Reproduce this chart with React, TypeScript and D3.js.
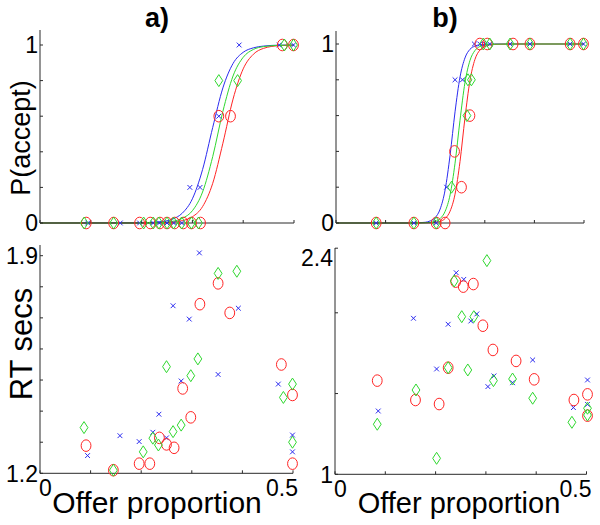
import React from 'react';
import * as d3 from 'd3';

// ---------- Panel a: P(accept) ----------
const aBlueX = [0.094, 0.158, 0.196, 0.223, 0.235, 0.25, 0.263, 0.279, 0.295, 0.315, 0.352, 0.392, 0.471, 0.499];
const aBlueP = [0, 0, 0, 0, 0, 0, 0, 0, 0.2, 0.2, 0.6, 1, 1, 1];
const aRedX = [0.091, 0.145, 0.196, 0.217, 0.236, 0.25, 0.265, 0.282, 0.298, 0.316, 0.352, 0.375, 0.477, 0.499];
const aRedP = [0, 0, 0, 0, 0, 0, 0, 0, 0, 0, 0.6, 0.6, 1, 1];
const aGreenX = [0.087, 0.145, 0.204, 0.223, 0.234, 0.25, 0.263, 0.279, 0.298, 0.312, 0.352, 0.389, 0.481, 0.499];
const aGreenP = [0, 0, 0, 0, 0, 0, 0, 0, 0, 0, 0.8, 0.8, 1, 1];

// fitted curves
const aCurveX = [0, 0.2, 0.24, 0.26, 0.28, 0.3, 0.32, 0.34, 0.36, 0.38, 0.4, 0.42, 0.44, 0.47, 0.5];
const aBlueFit = [0, 0.001, 0.008, 0.021, 0.055, 0.136, 0.3, 0.537, 0.759, 0.896, 0.959, 0.984, 0.994, 0.999, 1];
const aRedFit = [0, 0, 0.002, 0.005, 0.013, 0.035, 0.092, 0.223, 0.448, 0.696, 0.866, 0.948, 0.981, 0.996, 0.999];
const aGreenFit = [0, 0, 0.003, 0.009, 0.026, 0.069, 0.174, 0.373, 0.627, 0.826, 0.931, 0.975, 0.991, 0.998, 1];

// ---------- Panel a: RT ----------
const aBlueRtX = [0.315, 0.263, 0.295, 0.392, 0.352, 0.279, 0.471, 0.235, 0.223, 0.158, 0.196, 0.25, 0.094, 0.499, 0.499];
const aBlueRt = [1.909, 1.739, 1.696, 1.731, 1.518, 1.497, 1.487, 1.39, 1.332, 1.321, 1.302, 1.314, 1.257, 1.323, 1.269];
const aRedRtX = [0.352, 0.316, 0.375, 0.477, 0.499, 0.282, 0.298, 0.236, 0.25, 0.265, 0.091, 0.196, 0.217, 0.145, 0.499];
const aRedRt = [1.811, 1.744, 1.716, 1.55, 1.452, 1.473, 1.38, 1.314, 1.293, 1.282, 1.289, 1.231, 1.231, 1.21, 1.231];
const aGreenRtX = [0.352, 0.389, 0.312, 0.25, 0.298, 0.499, 0.481, 0.279, 0.263, 0.223, 0.234, 0.204, 0.087, 0.499, 0.145];
const aGreenRt = [1.843, 1.85, 1.568, 1.543, 1.514, 1.487, 1.444, 1.355, 1.334, 1.313, 1.291, 1.269, 1.347, 1.3, 1.21];

// ---------- Panel b: P(accept) ----------
const bBlueX = [0.081, 0.157, 0.202, 0.223, 0.24, 0.255, 0.279, 0.29, 0.3, 0.31, 0.351, 0.391, 0.472, 0.499];
const bBlueP = [0, 0, 0, 0.2, 0.8, 0.8, 1, 1, 1, 1, 1, 1, 1, 1];
const bRedX = [0.081, 0.157, 0.202, 0.22, 0.239, 0.253, 0.27, 0.29, 0.305, 0.357, 0.391, 0.472, 0.499];
const bRedP = [0, 0, 0, 0, 0.4, 0.2, 0.6, 1, 1, 1, 1, 1, 1];
const bGreenX = [0.081, 0.157, 0.202, 0.233, 0.264, 0.266, 0.273, 0.297, 0.31, 0.351, 0.391, 0.472, 0.499];
const bGreenP = [0, 0, 0, 0.2, 0.6, 0.8, 0.8, 1, 1, 1, 1, 1, 1];

const bCurveX = [0, 0.15, 0.18, 0.19, 0.2, 0.21, 0.22, 0.23, 0.24, 0.25, 0.26, 0.27, 0.28, 0.29, 0.3, 0.32, 0.35, 0.5];
const bBlueFit = [0, 0, 0.004, 0.012, 0.03, 0.078, 0.185, 0.379, 0.621, 0.815, 0.922, 0.97, 0.988, 0.996, 0.998, 1, 1, 1];
const bRedFit = [0, 0, 0.001, 0.001, 0.004, 0.009, 0.025, 0.066, 0.161, 0.343, 0.587, 0.794, 0.913, 0.966, 0.987, 0.998, 1, 1];
const bGreenFit = [0, 0, 0.001, 0.004, 0.009, 0.025, 0.065, 0.157, 0.334, 0.574, 0.784, 0.907, 0.963, 0.986, 0.995, 0.999, 1, 1];

// ---------- Panel b: RT ----------
const bBlueRtX = [0.241, 0.256, 0.156, 0.225, 0.27, 0.282, 0.202, 0.316, 0.304, 0.353, 0.393, 0.502, 0.502, 0.474, 0.086];
const bBlueRt = [2.248, 2.207, 1.966, 1.929, 1.949, 1.993, 1.652, 1.609, 1.543, 1.567, 1.708, 1.584, 1.433, 1.413, 1.392];
const bRedRtX = [0.24, 0.255, 0.275, 0.294, 0.314, 0.36, 0.396, 0.225, 0.084, 0.16, 0.207, 0.475, 0.502, 0.502];
const bRedRt = [2.193, 2.162, 2.178, 1.92, 1.77, 1.702, 1.588, 1.66, 1.58, 1.46, 1.435, 1.46, 1.495, 1.363];
const bGreenRtX = [0.302, 0.237, 0.252, 0.276, 0.225, 0.264, 0.315, 0.353, 0.161, 0.393, 0.084, 0.202, 0.471, 0.502, 0.502];
const bGreenRt = [2.323, 2.197, 1.976, 1.976, 1.66, 1.646, 1.58, 1.59, 1.522, 1.471, 1.31, 1.099, 1.322, 1.409, 1.367];

// ticks / labels
const xTickVals = [0, 0.1, 0.2, 0.3, 0.4, 0.5];
const xTickLabels = ['0', '0.5'];
const pTickVals = [0, 0.2, 0.4, 0.6, 0.8, 1];
const pTickLabels = ['0', '1'];
const aRtTickVals = [1.2, 1.3, 1.4, 1.5, 1.6, 1.7, 1.8, 1.9];
const aRtTickLabels = ['1.2', '1.9'];
const bRtTickVals = [1, 1.5, 2, 2.4];
const bRtTickLabels = ['1', '2.4'];

const BLUE = '#2b2bf0';
const RED = '#ff2424';
const GREEN = '#2fd82f';
const AXIS = '#2a2a2a';
const FONT = 'Liberation Sans, Arial, sans-serif';

type Series = { xs: number[]; ys: number[]; kind: 'x' | 'o' | 'd'; color: string };
type Curve = { xs: number[]; ys: number[]; color: string };

function Marker({ kind, cx, cy, color }: { kind: string; cx: number; cy: number; color: string }) {
  if (kind === 'x') {
    const s = 2.4;
    return (
      <path d={`M${cx - s},${cy - s}L${cx + s},${cy + s}M${cx - s},${cy + s}L${cx + s},${cy - s}`} stroke={color} strokeWidth={1} fill="none" />
    );
  }
  if (kind === 'o') {
    return <ellipse cx={cx} cy={cy} rx={4.9} ry={5.8} stroke={color} strokeWidth={1} fill="none" />;
  }
  const w = 3.9, h = 6;
  return <path d={`M${cx},${cy - h}L${cx + w},${cy}L${cx},${cy + h}L${cx - w},${cy}Z`} stroke={color} strokeWidth={1} fill="none" />;
}

function Panel(props: {
  x0: number; x1: number; yDomain: [number, number]; yRange: [number, number];
  axisTop: number; yTicks: number[]; yLabels: string[]; xLabels: string[]; series: Series[]; curves: Curve[];
}) {
  const { x0, x1, yDomain, yRange, axisTop, yTicks, yLabels, xLabels, series, curves } = props;
  const x = d3.scaleLinear().domain([0, 0.5]).range([x0, x1]);
  const y = d3.scaleLinear().domain(yDomain).range(yRange);
  const yb = yRange[0];
  const line = d3.line<[number, number]>().x(d => x(d[0])).y(d => y(d[1])).curve(d3.curveMonotoneX);
  return (
    <g>
      {curves.map((c, i) => (
        <path key={'c' + i} d={line(c.xs.map((v, j) => [v, c.ys[j]] as [number, number])) || ''} stroke={c.color} strokeWidth={1} fill="none" />
      ))}
      <line x1={x0} x2={x0} y1={yb} y2={axisTop} stroke={AXIS} strokeWidth={1} />
      <line x1={x0} x2={x1} y1={yb} y2={yb} stroke={AXIS} strokeWidth={1} />
      {xTickVals.map(v => (
        <line key={'xt' + v} x1={x(v)} x2={x(v)} y1={yb} y2={yb - 3} stroke={AXIS} strokeWidth={1} />
      ))}
      {yTicks.map(v => (
        <line key={'yt' + v} x1={x0} x2={x0 + 3} y1={y(v)} y2={y(v)} stroke={AXIS} strokeWidth={1} />
      ))}
      {yLabels.map(l => {
        const v = +l;
        const py = Math.max(y(v), axisTop + 10);
        return (
          <text key={'yl' + l} x={x0 - 2} y={py} dy="0.36em" textAnchor="end" fontFamily={FONT} fontSize={23} fill="#000">{l}</text>
        );
      })}
      {xLabels.map(l => {
        const v = +l;
        const anchor = v === 0 ? 'start' : 'end';
        const px = v === 0 ? x(v) - 1 : x(v) + 5;
        return (
          <text key={'xl' + l} x={px} y={yb + 23} textAnchor={anchor} fontFamily={FONT} fontSize={23} fill="#000">{l}</text>
        );
      })}
      {series.map((s, i) => (
        <g key={'s' + i}>
          {s.xs.map((v, j) => (
            <Marker key={j} kind={s.kind} cx={x(v)} cy={y(s.ys[j])} color={s.color} />
          ))}
        </g>
      ))}
    </g>
  );
}

export default function App() {
  return (
    <svg width={600} height={525} style={{ position: 'absolute', left: 0, top: 0, background: '#fff' }}>
      <rect width={600} height={525} fill="#fff" />
      <text x={157} y={27} textAnchor="middle" fontFamily={FONT} fontWeight="bold" fontSize={27}>a)</text>
      <text x={445} y={27} textAnchor="middle" fontFamily={FONT} fontWeight="bold" fontSize={27}>b)</text>
      <text transform="translate(30,138) rotate(-90)" textAnchor="middle" fontFamily={FONT} fontSize={27}>P(accept)</text>
      <text transform="translate(32,344) rotate(-90)" textAnchor="middle" fontFamily={FONT} fontSize={31}>RT secs</text>
      <text x={157} y={513} textAnchor="middle" fontFamily={FONT} fontSize={30}>Offer proportion</text>
      <text x={459} y={513} textAnchor="middle" fontFamily={FONT} fontSize={29}>Offer proportion</text>

      <Panel x0={40} x1={294} yDomain={[0, 1]} yRange={[223, 45]} axisTop={30}
        yTicks={pTickVals} yLabels={pTickLabels} xLabels={[]}
        curves={[{ xs: aCurveX, ys: aBlueFit, color: BLUE }, { xs: aCurveX, ys: aRedFit, color: RED }, { xs: aCurveX, ys: aGreenFit, color: GREEN }]}
        series={[
          { xs: aBlueX, ys: aBlueP, kind: 'x', color: BLUE },
          { xs: aRedX, ys: aRedP, kind: 'o', color: RED },
          { xs: aGreenX, ys: aGreenP, kind: 'd', color: GREEN },
        ]} />
      <Panel x0={336} x1={584} yDomain={[0, 1]} yRange={[223, 44]} axisTop={31}
        yTicks={pTickVals} yLabels={pTickLabels} xLabels={[]}
        curves={[{ xs: bCurveX, ys: bBlueFit, color: BLUE }, { xs: bCurveX, ys: bRedFit, color: RED }, { xs: bCurveX, ys: bGreenFit, color: GREEN }]}
        series={[
          { xs: bBlueX, ys: bBlueP, kind: 'x', color: BLUE },
          { xs: bRedX, ys: bRedP, kind: 'o', color: RED },
          { xs: bGreenX, ys: bGreenP, kind: 'd', color: GREEN },
        ]} />
      <Panel x0={40} x1={293} yDomain={[1.2, 1.9]} yRange={[473.3, 255.7]} axisTop={245}
        yTicks={aRtTickVals} yLabels={aRtTickLabels} xLabels={xTickLabels}
        curves={[]}
        series={[
          { xs: aBlueRtX, ys: aBlueRt, kind: 'x', color: BLUE },
          { xs: aRedRtX, ys: aRedRt, kind: 'o', color: RED },
          { xs: aGreenRtX, ys: aGreenRt, kind: 'd', color: GREEN },
        ]} />
      <Panel x0={335} x1={586.5} yDomain={[1, 2.4]} yRange={[474.3, 248.2]} axisTop={248}
        yTicks={bRtTickVals} yLabels={bRtTickLabels} xLabels={xTickLabels}
        curves={[]}
        series={[
          { xs: bBlueRtX, ys: bBlueRt, kind: 'x', color: BLUE },
          { xs: bRedRtX, ys: bRedRt, kind: 'o', color: RED },
          { xs: bGreenRtX, ys: bGreenRt, kind: 'd', color: GREEN },
        ]} />
    </svg>
  );
}
